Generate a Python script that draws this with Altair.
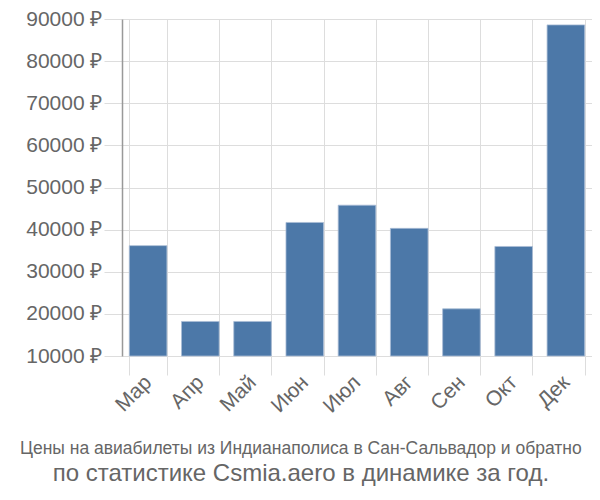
import altair as alt
import pandas as pd

months = ["Мар", "Апр", "Май", "Июн", "Июл", "Авг", "Сен", "Окт", "Дек"]
prices = [36200, 18200, 18200, 41700, 45800, 40300, 21200, 36000, 88600]
y_ticks = [10000, 20000, 30000, 40000, 50000, 60000, 70000, 80000, 90000]
title_line1 = "Цены на авиабилеты из Индианаполиса в Сан-Сальвадор и обратно"
title_line2 = "по статистике Csmia.aero в динамике за год."

df = pd.DataFrame({"month": months, "price": prices})

chart = alt.Chart(df).mark_bar(color="#4c78a8", stroke="#a9bcd6", strokeWidth=0.8).encode(
    x=alt.X("month:N", sort=months, title=None,
            scale=alt.Scale(paddingInner=0.28, paddingOuter=0.14),
            axis=alt.Axis(labelAngle=-45, labelAlign="right", labelBaseline="middle",
                          labelFontSize=21, labelColor="#666666", labelFont="Liberation Sans",
                          tickBand="extent", tickSize=19, tickColor="#dddddd",
                          grid=True, gridColor="#dddddd", domain=False, labelPadding=4)),
    y=alt.Y("price:Q", title=None,
            scale=alt.Scale(domain=[10000, 90000], zero=False, nice=False),
            axis=alt.Axis(values=y_ticks, labelExpr="datum.value + ' ₽'",
                          labelFontSize=21, labelColor="#666666", labelFont="Liberation Sans",
                          tickSize=18, tickColor="#dddddd", gridColor="#dddddd",
                          domainColor="#999999", domainWidth=1.5, labelPadding=2)),
    y2=alt.datum(10000),
).properties(
    width=470,
    height=337,
    padding={"left": 114, "top": 11, "right": 0, "bottom": 133},
    autosize=alt.AutoSizeParams(type="none"),
    title=alt.TitleParams(
        text=title_line1,
        subtitle=title_line2,
        orient="bottom",
        anchor="middle",
        frame="bounds",
        dx=-8,
        font="Liberation Sans",
        fontSize=17.5,
        fontWeight="normal",
        color="#666666",
        subtitleFont="Liberation Sans",
        subtitleFontSize=24,
        subtitleColor="#666666",
        offset=24,
        subtitlePadding=4,
    ),
).configure_view(stroke=None)

chart.save("out.html", embed_options={"renderer": "svg", "actions": False})
